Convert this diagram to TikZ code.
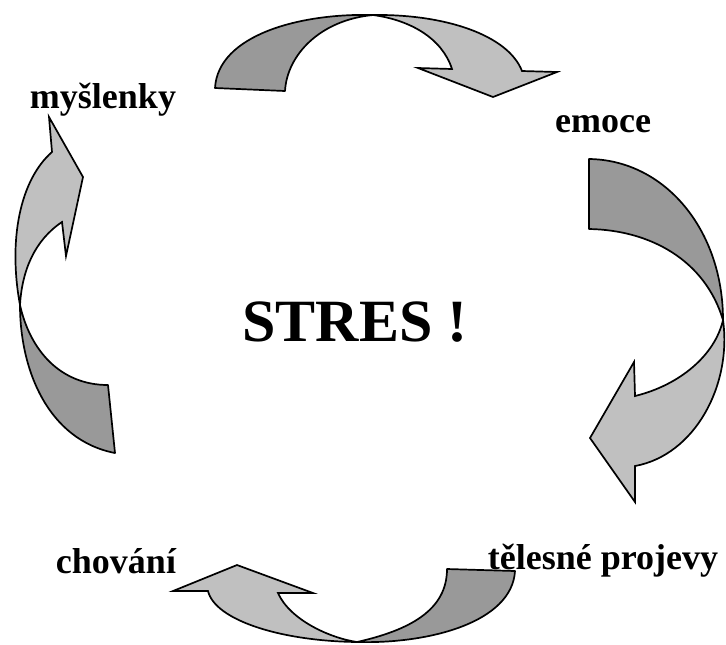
\documentclass[tikz,border=0pt]{standalone}
\usepackage{fontspec}
\setmainfont{Liberation Serif}
\usepackage{tikz}
\usetikzlibrary{positioning, calc}
\definecolor{backgray}{RGB}{153,153,153}
\definecolor{frontgray}{RGB}{192,192,192}
\tikzset{
  backhalf/.style={fill=backgray, draw=black, line width=0.85pt, line join=round},
  fronthalf/.style={fill=frontgray, draw=black, line width=0.85pt, line join=miter},
  steplabel/.style={font=\fontsize{18}{20}\selectfont\bfseries, inner sep=0pt},
  title/.style={font=\fontsize{30}{34}\selectfont\bfseries, inner sep=0pt}
}
\begin{document}
\begin{tikzpicture}[x=0.5pt, y=-0.5pt]
  \useasboundingbox (0,0) rectangle (726,644);

  % crossing points of the twisted arrows
  \coordinate (xtop) at (373,15);
  \coordinate (xright) at (723,320);
  \coordinate (xbottom) at (357,642);
  \coordinate (xleft) at (20,305);

  % top arrow: myslenky -> emoce
  \draw[backhalf] (215,88) .. controls (218,35) and (300,13) .. (xtop)
    .. controls (320,20) and (287,55) .. (285,91) -- cycle;
  \draw[fronthalf] (xtop) .. controls (445,14) and (508,35) .. (522,71)
    -- (557,72) -- (493,97) -- (418,68) -- (452,69)
    .. controls (442,38) and (410,20) .. (xtop) -- cycle;

  % right arrow: emoce -> telesne projevy
  \draw[backhalf] (589,159) .. controls (665,160) and (723,230) .. (xright)
    .. controls (705,260) and (650,230) .. (589,229) -- cycle;
  \draw[fronthalf] (xright) .. controls (732,385) and (695,455) .. (635,466)
    -- (635,502) -- (590,438) -- (634,362) -- (635,396)
    .. controls (680,385) and (715,355) .. (xright) -- cycle;

  % bottom arrow: telesne projevy -> chovani
  \draw[backhalf] (515,571) .. controls (512,622) and (430,644) .. (xbottom)
    .. controls (410,630) and (447,610) .. (447,569) -- cycle;
  \draw[fronthalf] (xbottom) .. controls (280,641) and (215,620) .. (208,591)
    -- (173,591) -- (237,565) -- (313,593) -- (278,593)
    .. controls (290,620) and (330,638) .. (xbottom) -- cycle;

  % left arrow: chovani -> myslenky
  \draw[backhalf] (115,453) .. controls (48,440) and (20,370) .. (xleft)
    .. controls (30,350) and (60,385) .. (108,385) -- cycle;
  \draw[fronthalf] (xleft) .. controls (8,240) and (20,180) .. (52,152)
    -- (49,117) -- (83,177) -- (66,256) -- (62,222)
    .. controls (35,240) and (22,270) .. (xleft) -- cycle;

  % labels
  \node[steplabel] (myslenky) at (103,100) {myšlenky};
  \node[steplabel] (emoce) at (603,124) {emoce};
  \node[steplabel] (chovani) at (116,561) {chování};
  \node[steplabel] (projevy) at (603,561) {tělesné projevy};
  \node[title] (stres) at (355,322) {STRES !};
\end{tikzpicture}
\end{document}
